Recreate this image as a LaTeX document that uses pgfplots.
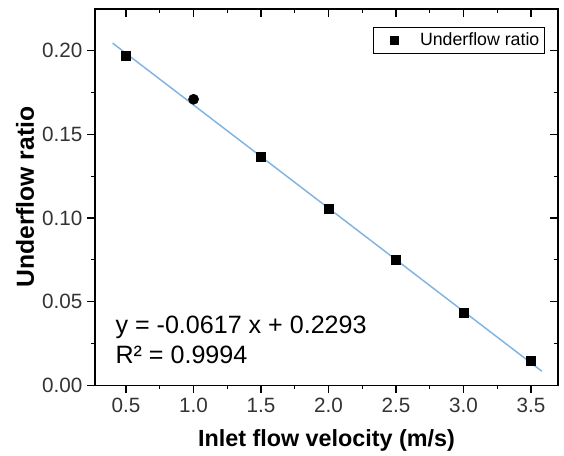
\documentclass[border=0pt]{standalone}
\usepackage{pgfplots}
\pgfplotsset{compat=1.18}
\usepackage{fontspec}
\setmainfont{Liberation Sans}
\definecolor{fitblue}{HTML}{80B4E2}
\begin{document}
\begin{tikzpicture}
\useasboundingbox (-71.25pt,-52.5pt) rectangle (351.5pt,288.75pt);
\begin{axis}[
  name=ax,
  at={(0pt,0pt)}, anchor=south west,
  scale only axis,
  width=347pt, height=282pt,
  xmin=0.27, xmax=3.70,
  ymin=0, ymax=0.225,
  xtick={0.5,1.0,...,3.5},
  ytick={0,0.05,...,0.2},
  minor x tick num=1,
  minor y tick num=1,
  xtick pos=bottom, ytick pos=left,
  tick align=outside,
  major tick length=6pt, minor tick length=3pt,
  axis line style={line width=1.1pt},
  every tick/.style={black, line width=0.9pt},
  /pgf/number format/assume math mode=true,
  xticklabel style={/pgf/number format/.cd, fixed, fixed zerofill, precision=1},
  yticklabel style={/pgf/number format/.cd, fixed, fixed zerofill, precision=2},
  ticklabel style={font=\fontsize{15.5}{18}\selectfont, text=black!80},
  xlabel={Inlet flow velocity (m/s)},
  ylabel={Underflow ratio},
  xlabel style={font=\fontsize{17.5}{20}\selectfont\bfseries, at={(axis description cs:0.5,-0.146)}, anchor=center},
  ylabel style={font=\fontsize{18.5}{21}\selectfont\bfseries, at={(axis description cs:-0.151,0.5)}, anchor=center},
  legend style={at={(axis description cs:0.600,0.952)}, anchor=north west,
    font=\fontsize{13.3}{15}\selectfont, draw=black, line width=0.8pt,
    inner xsep=2pt, inner ysep=2pt, row sep=0pt,
    /tikz/every even column/.style={column sep=0pt}},
  legend image code/.code={%
    \path[draw=none, fill=none] (0pt,-6pt) -- (31pt,6pt);
    \draw[#1, mark size=3pt] plot coordinates {(14pt,0pt)};},
  legend cell align=left,
  clip=false,
]
\addplot[only marks, mark=square*, mark size=3.3pt, black]
  coordinates {(0.5,0.197) (1.5,0.1365) (2.0,0.1054) (2.5,0.0748) (3.0,0.0433) (3.5,0.0144)};
\addlegendentry{Underflow ratio}
\addplot[only marks, mark=*, mark size=3.8pt, black, forget plot]
  coordinates {(1.0,0.171)};
\addplot[fitblue, line width=1.1pt, forget plot]
  coordinates {(0.40,0.2046) (3.58,0.0084)};
\node[anchor=base west, font=\fontsize{18.8}{22}\selectfont, inner sep=0pt]
  at (axis cs:0.42,0.0310) {y = -0.0617 x + 0.2293};
\node[anchor=base west, font=\fontsize{18.8}{22}\selectfont, inner sep=0pt]
  at (axis cs:0.42,0.0131) {R² = 0.9994};
\end{axis}
\begin{axis}[
  at={(0pt,0pt)}, anchor=south west,
  scale only axis,
  width=347pt, height=282pt,
  xmin=0.27, xmax=3.70,
  ymin=0, ymax=0.225,
  xtick={0.5,1.0,...,3.5},
  ytick={0,0.05,...,0.2},
  minor x tick num=1,
  minor y tick num=1,
  xtick pos=top, ytick pos=right,
  tick align=inside,
  major tick length=6pt, minor tick length=3pt,
  axis line style={draw=none},
  every tick/.style={black, line width=0.9pt},
  xticklabels={}, yticklabels={},
]
\end{axis}
\end{tikzpicture}
\end{document}
